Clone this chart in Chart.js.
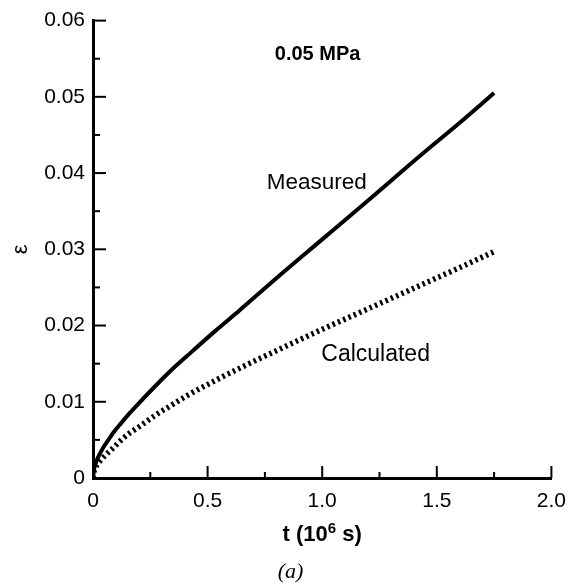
<!DOCTYPE html>
<html>
<head>
<meta charset="utf-8">
<script src="https://cdn.jsdelivr.net/npm/chart.js@4/dist/chart.umd.min.js"></script>
<style>
  html, body { margin: 0; padding: 0; background: #fff; }
  #wrap { width: 577px; height: 586px; }
</style>
</head>
<body>
<div id="wrap"><canvas id="creep" width="577" height="586"></canvas></div>
<script>
// creep strain vs time, 0.05 MPa
const measuredT   = [0, 0.005, 0.01, 0.022, 0.045, 0.065, 0.09, 0.12, 0.16, 0.2, 0.27, 0.34, 0.41, 0.53, 0.64, 0.8, 1.0, 1.2, 1.44, 1.6, 1.75];
const measuredEps = [0, 0.0012, 0.00175, 0.0027, 0.004, 0.0049, 0.006, 0.0071, 0.0085, 0.0098, 0.012, 0.0141, 0.016, 0.0192, 0.022, 0.0262, 0.0313, 0.0364, 0.0426, 0.0466, 0.0505];

const calcT   = [0, 0.005, 0.01, 0.022, 0.045, 0.065, 0.09, 0.12, 0.16, 0.2, 0.27, 0.34, 0.41, 0.56, 0.66, 0.8, 1.0, 1.2, 1.4, 1.6, 1.75];
const calcEps = [0, 0.0009, 0.0013, 0.0019, 0.0027, 0.0033, 0.004, 0.0049, 0.0059, 0.0067, 0.0082, 0.0095, 0.0108, 0.0132, 0.0147, 0.0167, 0.0195, 0.0222, 0.0249, 0.0276, 0.0297];

const xTickVals   = [0, 0.5, 1.0, 1.5, 2.0];
const xTickLabels = ['0', '0.5', '1.0', '1.5', '2.0'];
const xMinorVals  = [0.25, 0.75, 1.25, 1.75];
const yTickVals   = [0, 0.01, 0.02, 0.03, 0.04, 0.05, 0.06];
const yTickLabels = ['0', '0.01', '0.02', '0.03', '0.04', '0.05', '0.06'];
const yMinorVals  = [0.005, 0.015, 0.025, 0.035, 0.045, 0.055];

const FONT = "'Liberation Sans', Arial, Helvetica, sans-serif";

const toPoints = (xs, ys) => xs.map((x, i) => ({ x: x, y: ys[i] }));

// tick marks point into the plot, plus the free-floating labels
const decorations = {
    id: 'decorations',
    afterDraw(chart) {
        const ctx = chart.ctx;
        const sx = chart.scales.x, sy = chart.scales.y;
        ctx.save();
        ctx.strokeStyle = '#000';
        ctx.lineWidth = 2;
        ctx.lineCap = 'butt';
        const tick = (x1, y1, x2, y2) => {
            ctx.beginPath(); ctx.moveTo(x1, y1); ctx.lineTo(x2, y2); ctx.stroke();
        };
        xTickVals.forEach(v => { const p = sx.getPixelForValue(v); tick(p, sy.bottom, p, sy.bottom - 12); });
        xMinorVals.forEach(v => { const p = sx.getPixelForValue(v); tick(p, sy.bottom, p, sy.bottom - 6); });
        yTickVals.forEach(v => { const p = sy.getPixelForValue(v); tick(sx.left, p, sx.left + 13, p); });
        yMinorVals.forEach(v => { const p = sy.getPixelForValue(v); tick(sx.left, p, sx.left + 7, p); });

        ctx.fillStyle = '#000';
        ctx.textAlign = 'center';
        ctx.textBaseline = 'middle';

        ctx.font = 'bold 20px ' + FONT;
        ctx.fillText('0.05 MPa', sx.getPixelForValue(0.98), sy.getPixelForValue(0.0555));

        ctx.font = '22.5px ' + FONT;
        ctx.fillText('Measured', sx.getPixelForValue(0.976), sy.getPixelForValue(0.0387));
        ctx.font = '23px ' + FONT;
        ctx.fillText('Calculated', sx.getPixelForValue(1.233), sy.getPixelForValue(0.0162));

        // x axis title with a raised exponent
        const base = 'bold 22px ' + FONT, sup = 'bold 15px ' + FONT;
        const parts = [['t (10', base, 0], ['6', sup, -8], [' s)', base, 0]];
        let w = 0;
        parts.forEach(p => { ctx.font = p[1]; w += ctx.measureText(p[0]).width; });
        let x = (sx.left + sx.right) / 2 - w / 2;
        const yBase = 541;
        ctx.textAlign = 'left';
        ctx.textBaseline = 'alphabetic';
        parts.forEach(p => {
            ctx.font = p[1];
            ctx.fillText(p[0], x, yBase + p[2]);
            x += ctx.measureText(p[0]).width;
        });

        ctx.textAlign = 'center';
        ctx.font = "italic 22px 'Liberation Serif', 'Times New Roman', serif";
        ctx.fillText('(a)', chart.width / 2 + 2, 578);
        ctx.restore();
    }
};

new Chart(document.getElementById('creep'), {
    type: 'line',
    data: {
        datasets: [
            {
                label: 'Measured',
                data: toPoints(measuredT, measuredEps),
                borderColor: '#000',
                borderWidth: 4,
                pointRadius: 0,
                cubicInterpolationMode: 'monotone',
                fill: false
            },
            {
                label: 'Calculated',
                data: toPoints(calcT, calcEps),
                borderColor: '#000',
                borderWidth: 5.5,
                borderDash: [2.5, 3.3],
                borderCapStyle: 'butt',
                pointRadius: 0,
                cubicInterpolationMode: 'monotone',
                fill: false
            }
        ]
    },
    options: {
        responsive: false,
        devicePixelRatio: 1,
        animation: false,
        layout: { padding: { top: 16, right: 25, left: 0, bottom: 0 } },
        plugins: { legend: { display: false }, tooltip: { enabled: false } },
        scales: {
            x: {
                type: 'linear',
                min: 0,
                max: 2,
                afterBuildTicks: s => { s.ticks = xTickVals.map(v => ({ value: v })); },
                afterFit: s => { s.height = 108; },
                ticks: {
                    color: '#000',
                    padding: 11,
                    maxRotation: 0,
                    font: { family: FONT, size: 21 },
                    callback: (v) => xTickLabels[xTickVals.indexOf(v)]
                },
                grid: { display: false, drawTicks: false },
                border: { display: true, color: '#000', width: 3 }
            },
            y: {
                type: 'linear',
                min: 0,
                max: 0.06,
                afterBuildTicks: s => { s.ticks = yTickVals.map(v => ({ value: v })); },
                afterFit: s => { s.width = 93; },
                ticks: {
                    color: '#000',
                    padding: 8,
                    font: { family: FONT, size: 21 },
                    callback: (v) => yTickLabels[yTickVals.indexOf(v)]
                },
                title: {
                    display: true,
                    text: 'ε',
                    color: '#000',
                    padding: { top: 8, bottom: 0 },
                    font: { family: FONT, size: 22 }
                },
                grid: { display: false, drawTicks: false },
                border: { display: true, color: '#000', width: 3 }
            }
        }
    },
    plugins: [decorations]
});
</script>
</body>
</html>
